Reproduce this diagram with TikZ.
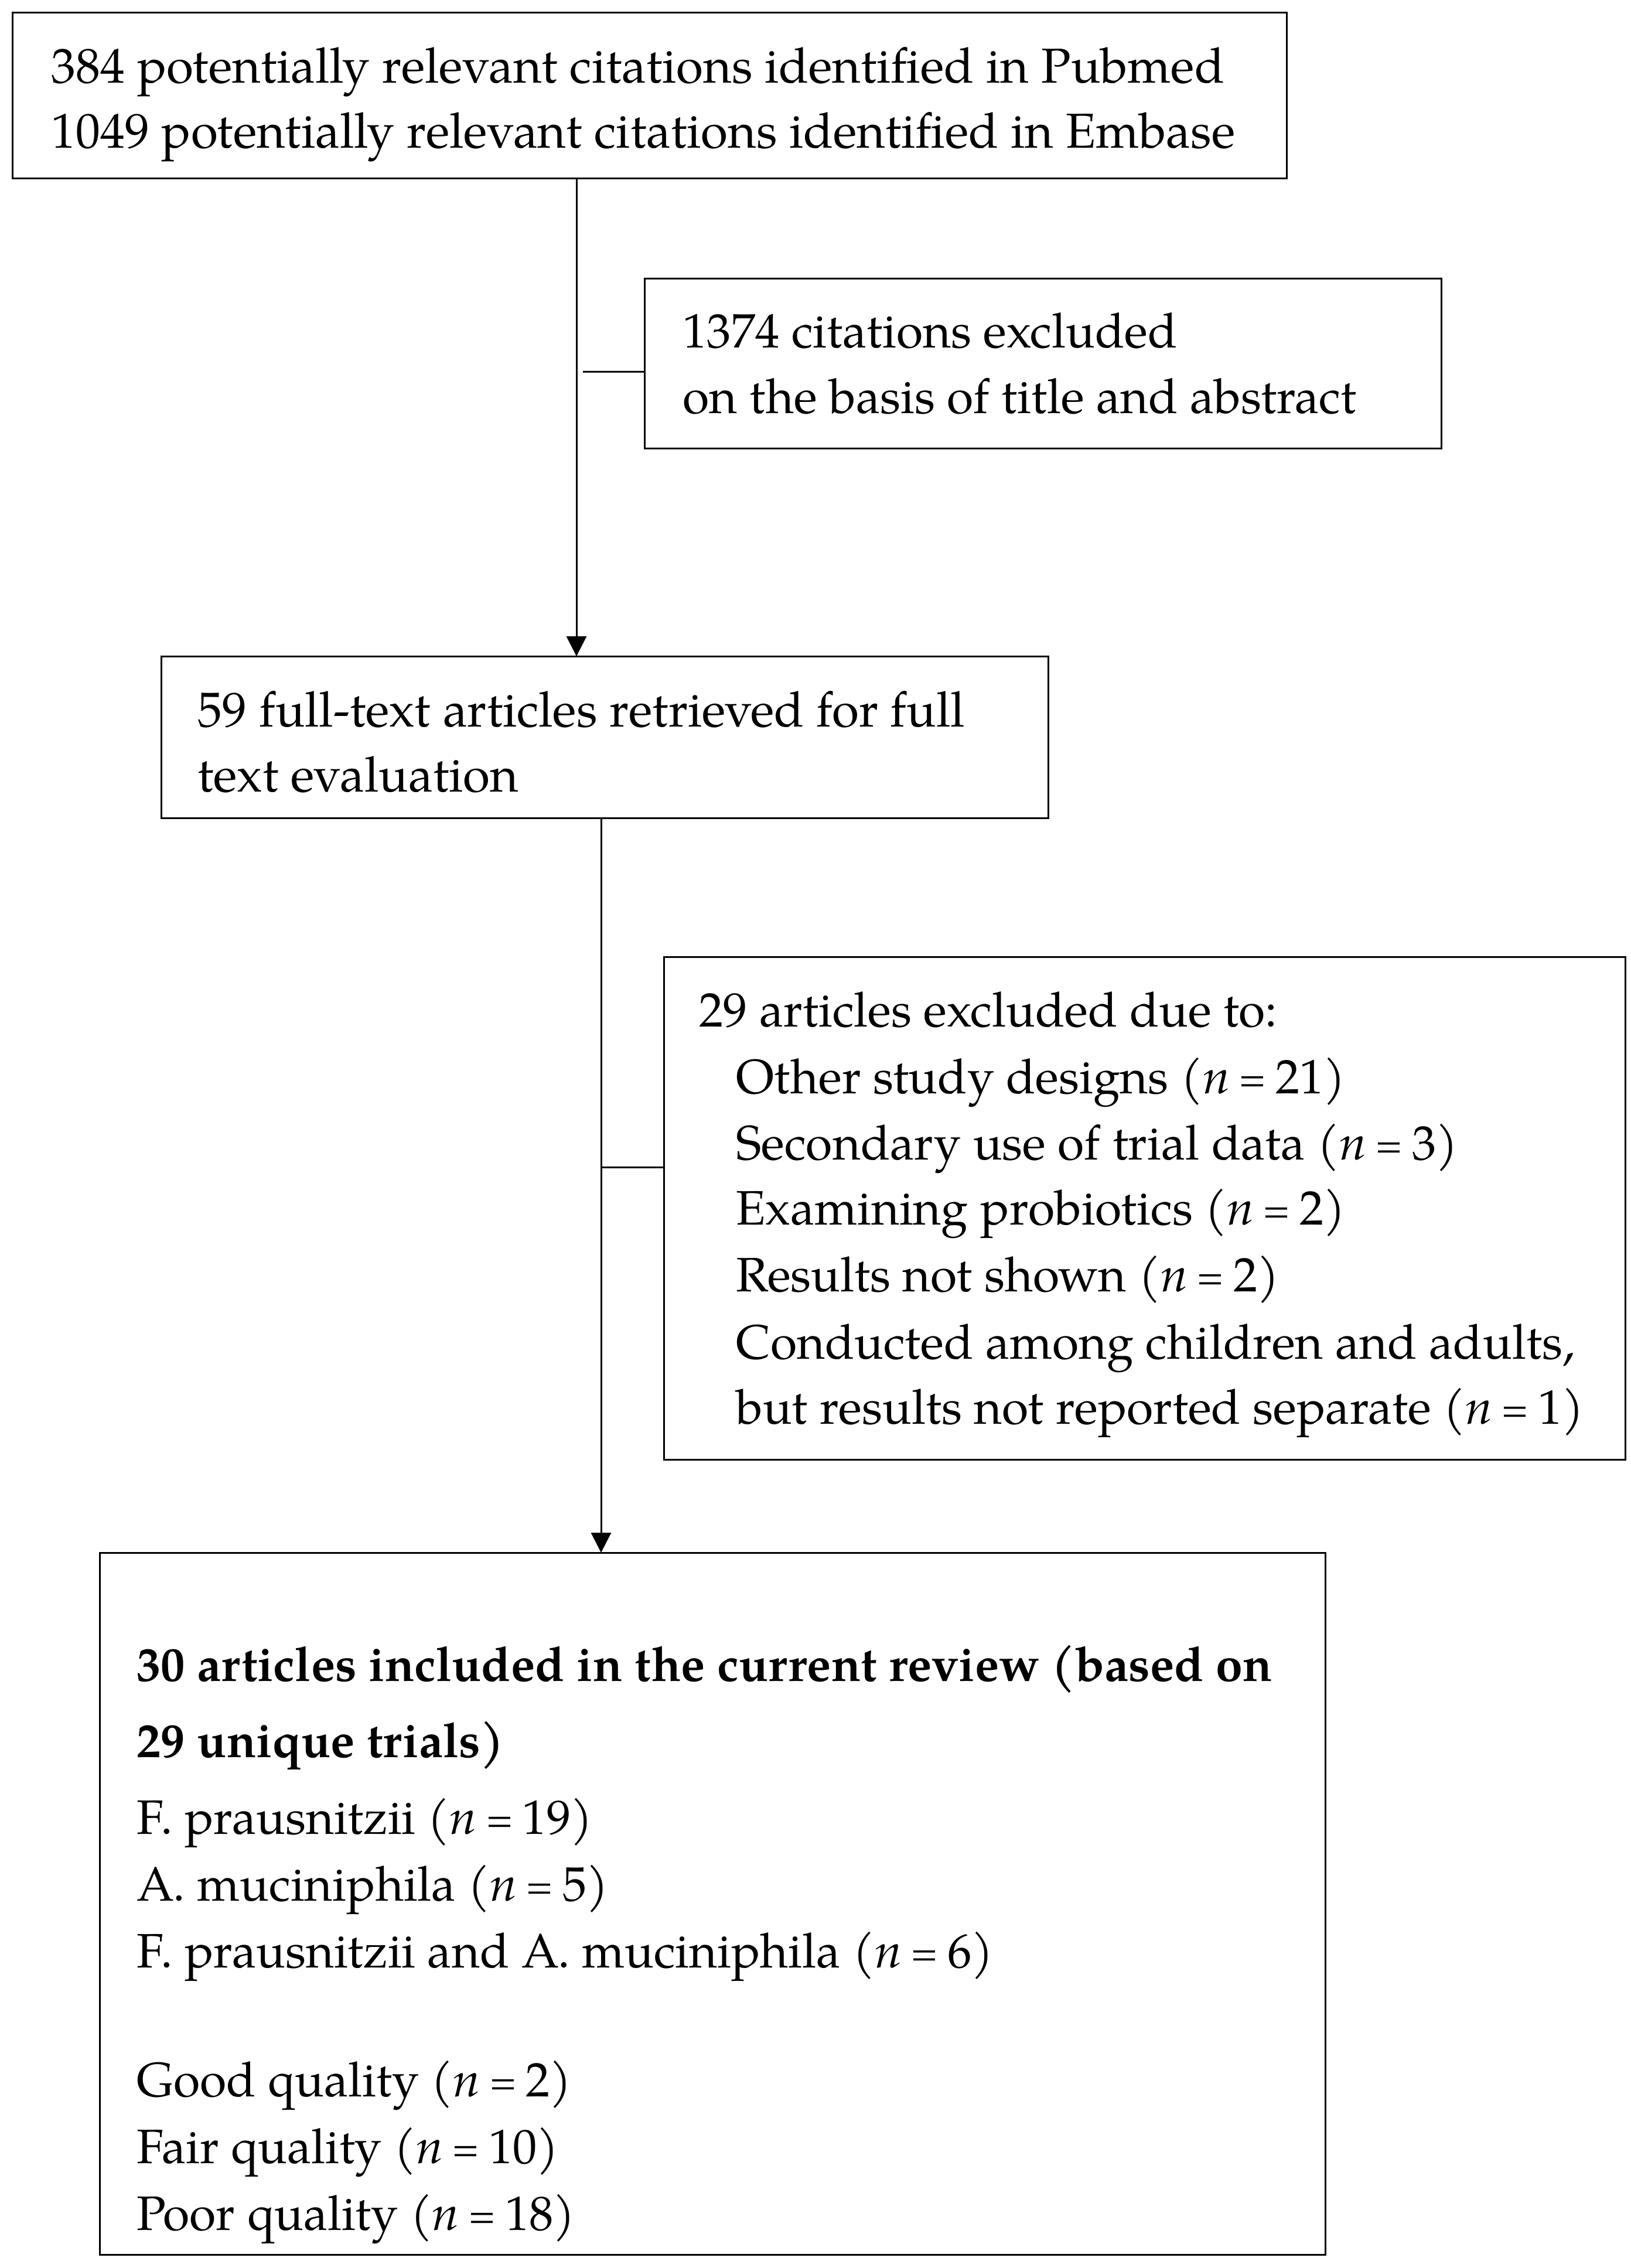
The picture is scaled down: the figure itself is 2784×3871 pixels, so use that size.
\documentclass[tikz,border=0pt]{standalone}
\usepackage{fontspec}
\usepackage{graphicx}
\setmainfont{TeX Gyre Pagella}
\usetikzlibrary{arrows.meta}
\newcommand{\nEq}[1]{(\textit{n}\hspace{0.19em}\raisebox{0.06em}{\scalebox{0.75}{=}}\hspace{0.19em}#1)}
\begin{document}
\begin{tikzpicture}[x=0.2pt,y=-0.2pt, line width=0.6pt,
  box/.style={draw, line width=0.6pt, inner sep=0pt, outer sep=0pt, anchor=north west},
  txt/.style={anchor=base west, inner sep=0pt, font=\fontsize{16.5pt}{20pt}\selectfont},
  wtxt/.style={anchor=base west, inner sep=0pt, font=\fontsize{16.75pt}{20pt}\selectfont},
  btxt/.style={txt, font=\fontsize{16.5pt}{20pt}\selectfont\bfseries},
  arr/.style={-{Triangle[length=6.8pt,width=6.8pt]}}]
\useasboundingbox (0,0) rectangle (2784,3871);
\fill[white] (0,0) rectangle (2784,3871);
% boxes
\node[box, minimum width=435pt, minimum height=56.6pt] (b1) at (21,21) {};
\node[box, minimum width=272pt, minimum height=58pt] (b2) at (1100,475) {};
\node[box, minimum width=302.8pt, minimum height=55.2pt] (b3) at (275,1120) {};
\node[box, minimum width=328.2pt, minimum height=171.6pt] (b4) at (1133,1633) {};
\node[box, minimum width=418.4pt, minimum height=239.6pt] (b5) at (170,2650) {};
% texts
\node[wtxt] (t1a) at (86,141) {384 potentially relevant citations identified in Pubmed};
\node[wtxt] (t1b) at (86,252) {1049 potentially relevant citations identified in Embase};
\node[txt] (t2a) at (1164,593) {1374 citations excluded};
\node[txt] (t2b) at (1164,705) {on the basis of title and abstract};
\node[wtxt] (t3a) at (336,1240) {59 full-text articles retrieved for full};
\node[wtxt] (t3b) at (336,1351) {text evaluation};
\node[txt] (t4a) at (1192,1752) {29 articles excluded due to:};
\node[txt] (t4b) at (1255,1866) {Other study designs \nEq{21}};
\node[txt] (t4c) at (1255,1979) {Secondary use of trial data \nEq{3}};
\node[txt] (t4d) at (1255,2090) {Examining probiotics \nEq{2}};
\node[txt] (t4e) at (1255,2204) {Results not shown \nEq{2}};
\node[txt] (t4f) at (1255,2319) {Conducted among children and adults,};
\node[txt] (t4g) at (1255,2430) {but results not reported separate \nEq{1}};
\node[btxt] (t5a) at (232,2869) {30 articles included in the current review (based on};
\node[btxt] (t5b) at (232,2999) {29 unique trials)};
\node[txt] (t5c) at (232,3130) {F. prausnitzii \nEq{19}};
\node[txt] (t5d) at (232,3244) {A. muciniphila \nEq{5}};
\node[txt] (t5e) at (232,3358) {F. prausnitzii and A. muciniphila \nEq{6}};
\node[txt] (t5f) at (232,3578) {Good quality \nEq{2}};
\node[txt] (t5g) at (232,3692) {Fair quality \nEq{10}};
\node[txt] (t5h) at (232,3806) {Poor quality \nEq{18}};
% connectors
\coordinate (j1) at (984,0);
\coordinate (s1) at (995,634);
\coordinate (j2) at (1026,0);
\coordinate (s2) at (1026,1992);
\draw[arr] (b1.south -| j1) -- (b3.north -| j1);
\draw (s1) -- (s1 -| b2.west);
\draw[arr] (b3.south -| j2) -- (b5.north -| j2);
\draw (s2) -- (s2 -| b4.west);
\end{tikzpicture}
\end{document}
